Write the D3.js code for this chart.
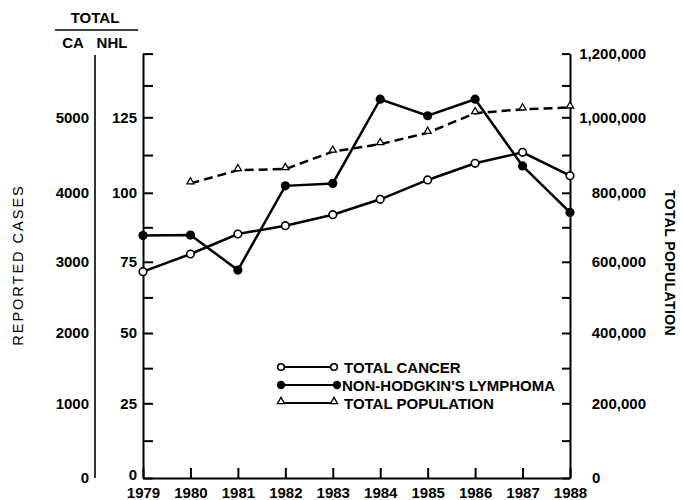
<!DOCTYPE html>
<html lang="en">
<head>
    <meta charset="UTF-8">
    <title>Reported cases and total population, 1979-1988</title>
    <script src="https://d3js.org/d3.v7.min.js"></script>
    <style>
        body {
            margin: 0;
            background: #fff;
        }
        svg text {
            font-family: "Liberation Sans", Arial, sans-serif;
            font-weight: bold;
            font-size: 15px;
            fill: #000;
        }
        .axis path, .axis line {
            stroke: #000;
            stroke-width: 2;
        }
    </style>
</head>
<body>
    <svg id="chart" width="683" height="500"></svg>

    <script>
        // Données
        const years = [1979, 1980, 1981, 1982, 1983, 1984, 1985, 1986, 1987, 1988];
        const totalCancer = [2861, 3113, 3403, 3523, 3683, 3906, 4170, 4391, 4536, 4226];
        const nhl = [84.5, 84.7, 72.1, 102.3, 103.1, 132.1, 125.6, 132.1, 108.9, 92.9];
        const popYears = [1980, 1981, 1982, 1983, 1984, 1985, 1986, 1987, 1988];
        const population = [825000, 860000, 863000, 909000, 929000, 959000, 1013000, 1025000, 1031000];

        const caTicks = [0, 1000, 2000, 3000, 4000, 5000];
        const nhlTicks = [0, 12.5, 25, 37.5, 50, 62.5, 75, 87.5, 100, 112.5, 125, 137.5, 150];
        const popTicks = [0, 100000, 200000, 300000, 400000, 500000, 600000,
                          700000, 800000, 900000, 1000000, 1100000, 1200000];
        const legendLabels = ["TOTAL CANCER", "NON-HODGKIN'S LYMPHOMA", "TOTAL POPULATION"];

        const svg = d3.select("#chart");

        // Échelles (graduations du document original légèrement irrégulières)
        const yRange = [478, 403.3, 333, 261.8, 192.8, 117.3, 53.6];
        const x = d3.scaleLinear().domain([1979, 1988]).range([143, 570]);
        const yN = d3.scaleLinear().domain([0, 25, 50, 75, 100, 125, 150]).range(yRange);
        const yCA = d3.scaleLinear().domain([0, 1000, 2000, 3000, 4000, 5000, 6000]).range(yRange);
        const yPop = d3.scaleLinear().domain([0, 200000, 400000, 600000, 800000, 1000000, 1200000]).range(yRange);

        // Axe CA (extérieur)
        const caAxis = svg.append("g")
            .attr("class", "axis")
            .attr("transform", "translate(95,0)")
            .call(d3.axisLeft(yCA).tickValues(caTicks).tickSize(0).tickPadding(6).tickFormat(d3.format("d")));
        caAxis.select(".domain").style("stroke-width", 1.6).attr("d", `M0,${yCA(0)}V55`);

        // Axe NHL
        const nAxis = svg.append("g")
            .attr("class", "axis")
            .attr("transform", "translate(143,0)")
            .call(d3.axisLeft(yN).tickValues(nhlTicks).tickSizeInner(-10).tickSizeOuter(0).tickPadding(6)
                .tickFormat(d => (d % 25 === 0 && d < 150) ? d : ""));
        nAxis.selectAll("text").filter(d => d === 0).attr("dy", "0.1em");

        // Axe population (droite)
        const pAxis = svg.append("g")
            .attr("class", "axis")
            .attr("transform", "translate(570,0)")
            .call(d3.axisRight(yPop).tickValues(popTicks).tickSizeInner(-8).tickSizeOuter(0)
                .tickFormat(d => d % 200000 === 0 ? d3.format(",")(d) : ""));
        pAxis.selectAll("text")
            .attr("text-anchor", d => d === 0 ? "start" : "end")
            .attr("x", d => d === 0 ? 22 : 76);

        // Axe des années
        svg.append("g")
            .attr("class", "axis")
            .attr("transform", "translate(0,478)")
            .call(d3.axisBottom(x).tickValues(years).tickSizeInner(-10).tickSizeOuter(0).tickPadding(9)
                .tickFormat(d3.format("d")));

        // En-tête TOTAL / CA / NHL
        svg.append("text").attr("x", 95).attr("y", 23).attr("text-anchor", "middle").text("TOTAL");
        svg.append("line").attr("x1", 55).attr("x2", 138).attr("y1", 30).attr("y2", 30)
            .attr("stroke", "#000").attr("stroke-width", 1.5);
        svg.append("text").attr("x", 73).attr("y", 48).attr("text-anchor", "middle").text("CA");
        svg.append("text").attr("x", 112).attr("y", 48).attr("text-anchor", "middle").text("NHL");

        // Titres des axes verticaux
        svg.append("text")
            .attr("transform", "translate(23,265) rotate(-90)")
            .attr("text-anchor", "middle")
            .style("font-weight", "normal")
            .style("font-size", "14.5px")
            .style("letter-spacing", "2px")
            .text("REPORTED CASES");
        svg.append("text")
            .attr("transform", "translate(665,263) rotate(90)")
            .attr("text-anchor", "middle")
            .style("font-size", "14px")
            .style("letter-spacing", "0.4px")
            .text("TOTAL POPULATION");

        // Courbes
        const cancerData = years.map((y, i) => ({ year: y, value: totalCancer[i] }));
        const nhlData = years.map((y, i) => ({ year: y, value: nhl[i] }));
        const popData = popYears.map((y, i) => ({ year: y, value: population[i] }));

        const tri = d3.symbol().type(d3.symbolTriangle).size(22);

        svg.append("path")
            .datum(popData)
            .attr("fill", "none").attr("stroke", "#000").attr("stroke-width", 2.5)
            .attr("stroke-dasharray", "9,5")
            .attr("d", d3.line().x(d => x(d.year)).y(d => yPop(d.value)));

        svg.append("path")
            .datum(cancerData)
            .attr("fill", "none").attr("stroke", "#000").attr("stroke-width", 2.5)
            .attr("d", d3.line().x(d => x(d.year)).y(d => yCA(d.value)));

        svg.append("path")
            .datum(nhlData)
            .attr("fill", "none").attr("stroke", "#000").attr("stroke-width", 2.5)
            .attr("d", d3.line().x(d => x(d.year)).y(d => yN(d.value)));

        svg.selectAll(".pop-pt")
            .data(popData).enter().append("path")
            .attr("class", "pop-pt")
            .attr("transform", d => `translate(${x(d.year)},${yPop(d.value) - 1.5})`)
            .attr("d", tri)
            .attr("fill", "#fff").attr("stroke", "#000").attr("stroke-width", 1.3);

        svg.selectAll(".ca-pt")
            .data(cancerData).enter().append("circle")
            .attr("class", "ca-pt")
            .attr("cx", d => x(d.year)).attr("cy", d => yCA(d.value))
            .attr("r", 3.8)
            .attr("fill", "#fff").attr("stroke", "#000").attr("stroke-width", 1.6);

        svg.selectAll(".nhl-pt")
            .data(nhlData).enter().append("circle")
            .attr("class", "nhl-pt")
            .attr("cx", d => x(d.year)).attr("cy", d => yN(d.value))
            .attr("r", 4.6)
            .attr("fill", "#000");

        // Légende
        const legend = svg.append("g").attr("transform", "translate(281,367)");
        legendLabels.forEach((label, i) => {
            const row = legend.append("g").attr("transform", `translate(0,${i * 18})`);
            const x2 = i === 1 ? 56 : 53;
            row.append("line").attr("x1", 0).attr("x2", x2).attr("y1", 0).attr("y2", 0)
                .attr("stroke", "#000").attr("stroke-width", 2);
            if (i === 0) {
                row.selectAll("circle").data([0, x2]).enter().append("circle")
                    .attr("cx", d => d).attr("cy", 0).attr("r", 3.3)
                    .attr("fill", "#fff").attr("stroke", "#000").attr("stroke-width", 1.6);
            } else if (i === 1) {
                row.selectAll("circle").data([0, x2]).enter().append("circle")
                    .attr("cx", d => d).attr("cy", 0).attr("r", 4.2).attr("fill", "#000");
            } else {
                row.selectAll("path").data([0, x2]).enter().append("path")
                    .attr("transform", d => `translate(${d},-1.5)`)
                    .attr("d", tri)
                    .attr("fill", "#fff").attr("stroke", "#000").attr("stroke-width", 1.3);
            }
            row.append("text")
                .attr("x", i === 1 ? 61 : 63)
                .attr("y", 5.5)
                .text(label);
        });
    </script>
</body>
</html>
